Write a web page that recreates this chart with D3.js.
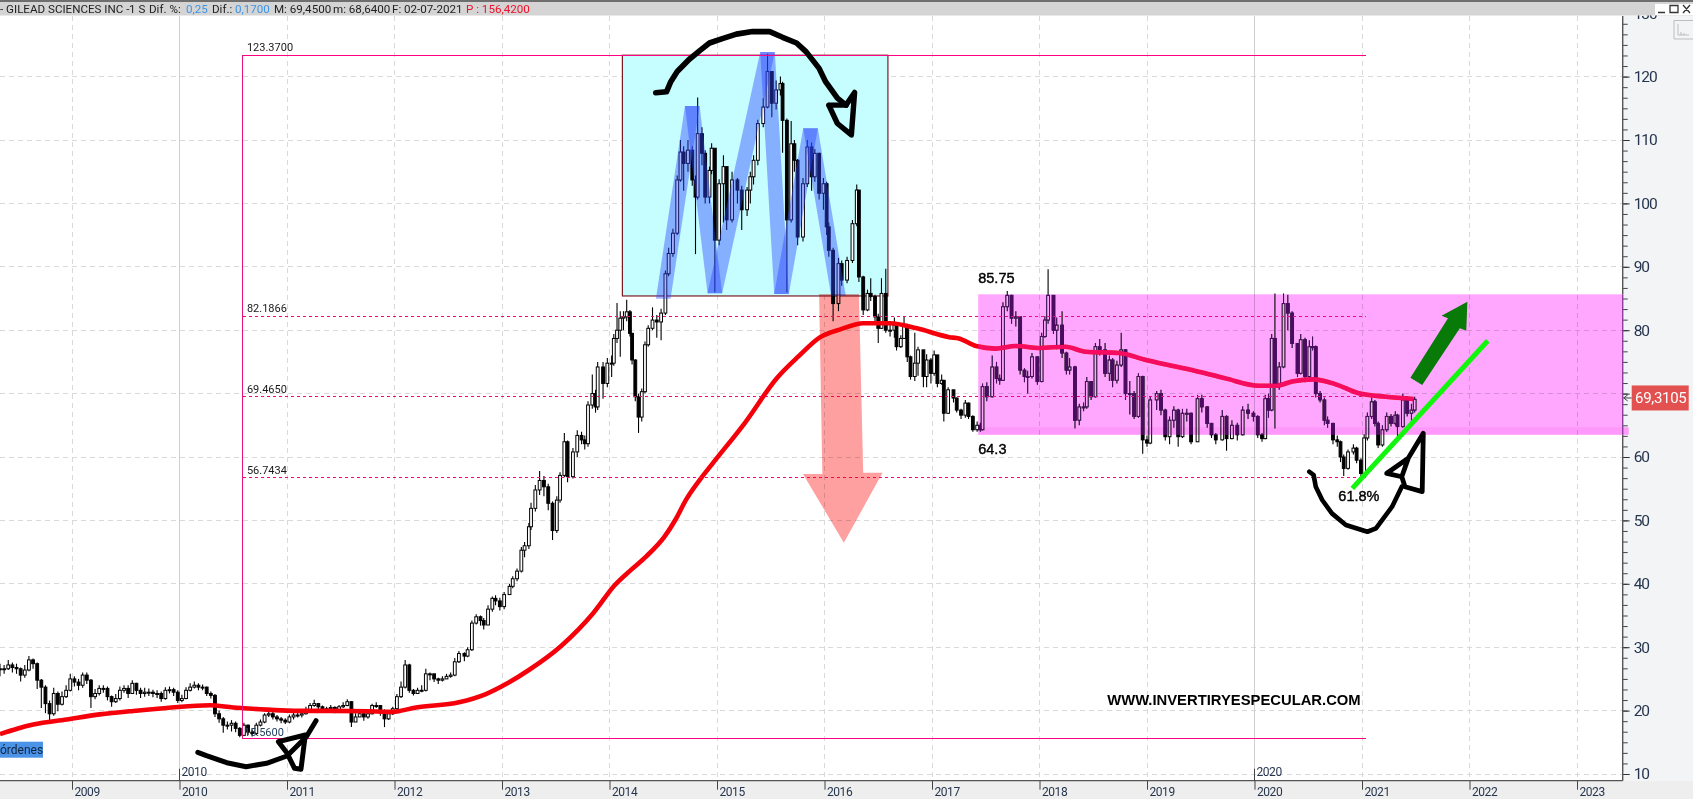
<!DOCTYPE html>
<html><head><meta charset="utf-8">
<script src="https://d3js.org/d3.v7.min.js"></script>
<style>html,body{margin:0;padding:0;background:#fff;overflow:hidden}svg{display:block;isolation:isolate}text{font-family:Roboto,"Noto Sans",sans-serif}</style>
</head><body><svg id="c" width="1693" height="799"></svg>
<script>
// ---------- chart values ----------
const xTickYears=[2009,2010,2011,2012,2013,2014,2015,2016,2017,2018,2019,2020,2021,2022,2023];
const majorYears=[2010,2020];
const priceTicks=[10,20,30,40,50,60,70,80,90,100,110,120,130];
const hiddenPriceLabels=[70];
const fibLevels=[123.37,82.1866,69.465,56.7434,15.56];
const fibLabels=["123.3700","82.1866","69.4650","56.7434","15.5600"];

// fortnightly candles 2008.33 -> 2012.6
const earlyCloses=[26.6,26.6,27.2,26.8,26.6,25.6,26.4,28,27.4,24.8,
23.7,21.1,19.5,22.7,21,22.2,23.2,25,24.5,24,
25.6,24.8,22.2,22.7,23.5,23.5,22.2,21.4,21.9,23.2,
23.5,22.7,24.3,23.2,22.7,22.9,22.9,22.7,22.7,21.9,
23.2,23.3,22.9,21.6,21.9,23.2,23.7,24,23.7,23.7,
22.7,22.4,19.5,18.7,17.7,17.7,18,17.2,16.1,17.7,
16.6,16.4,17.7,18.2,19.3,19.5,19,18.7,18.5,18.2,
19,19.3,19.3,19.5,20,20.8,21.1,20.6,20.3,20.3,
20.5,20,20.6,20.8,21.4,18.2,19,19.5,19,19.5,
20.8,20.8,20,18.7,19.5,20.3,22.2,23.7,27.2,23.2,
22.7,23.2,23.2,25.8,25.8,25,24.8,25,25.4,25.6,
27.7,29];
const earlyHighs=[27.4,27.2,28,27.6,27.4,26.8,27.2,28.6,28.2,27.6,
25,24,21.6,23.6,23,23,24,25.8,25.4,25,
26,26,25,23.4,24,24,23.8,22.4,22.6,23.8,
24,24,24.8,24.4,23.6,23.6,23.5,23.3,23.2,23,
23.7,23.8,23.6,23.2,22.5,23.7,24.3,24.6,24.3,24.1,
23.8,23,22.6,20,19,18.3,18.5,18.3,17.4,18.1,
17.8,17,18.1,18.6,19.6,20,19.8,19.3,19,18.8,
19.4,19.7,19.8,20.1,20.6,21.2,21.7,21.2,20.8,20.6,
20.9,20.7,20.9,21.3,21.8,21.5,19.6,20,19.7,20,
21.1,21.3,20.9,20.2,20,20.6,22.6,24.6,28,27.4,
23.4,23.6,24,26.6,26,25.8,25.2,25.4,25.8,26,
28.3,29.4];
const earlyLows=[25.4,25.8,26.4,26,25.8,24.6,25.2,26.2,26.6,23.4,
20.4,19.6,18,19.2,19.9,20.8,22,23,23.8,23.2,
23.6,24.2,20.4,21.8,22.4,22.8,21.6,20.6,21.2,21.6,
22.8,22,22.6,22.5,22,22.2,22.3,22.1,22,21.4,
21.7,22.7,22.3,21.2,21.3,21.8,23,23.5,23.2,23.2,
22.3,21.9,19,18.1,16.5,17,16.7,16.6,15.8,16,
16.1,15.9,16.1,17.5,18,19,18.6,18.3,18,17.9,
18,18.6,18.9,18.9,19.4,19.8,20.6,20.1,19.8,19.7,
20,19.6,19.8,20.4,20.7,17.4,18.2,19,18.4,18.7,
19.4,20.4,19.2,17.4,18.5,19.3,20,22,23.5,22.8,
22.4,22.7,22.9,23,24.8,24.5,24.2,24.6,25,25.2,
25.4,27.5];

// candles 2012.65 -> 2021.49
const lateYears=[2012.65,2012.68,2012.72,2012.76,2012.80,2012.83,2012.87,2012.91,2012.94,2012.98,
2013.02,2013.07,2013.10,2013.14,2013.18,2013.21,2013.25,2013.27,2013.31,2013.35,
2013.39,2013.43,2013.47,2013.51,2013.54,2013.58,2013.61,2013.66,2013.70,2013.74,
2013.77,2013.80,2013.84,2013.87,2013.89,2013.94,2013.98,2014.02,2014.04,2014.07,
2014.10,2014.13,2014.16,2014.19,2014.21,2014.24,2014.27,2014.30,2014.33,2014.36,
2014.40,2014.44,2014.48,2014.52,2014.55,2014.59,2014.63,2014.66,2014.69,2014.73,
2014.77,2014.80,2014.82,2014.86,2014.89,2014.93,2014.95,2014.98,2015.02,2015.06,
2015.09,2015.14,2015.19,2015.23,2015.28,2015.31,2015.34,2015.38,2015.43,2015.47,
2015.51,2015.55,2015.59,2015.61,2015.65,2015.69,2015.72,2015.75,2015.80,2015.84,
2015.88,2015.91,2015.95,2015.99,2016.02,2016.04,2016.08,2016.13,2016.16,2016.21,
2016.26,2016.30,2016.32,2016.36,2016.40,2016.43,2016.47,2016.50,2016.53,2016.57,
2016.61,2016.65,2016.67,2016.71,2016.74,2016.77,2016.80,2016.84,2016.87,2016.92,
2016.95,2016.99,2017.02,2017.05,2017.09,2017.11,2017.15,2017.20,2017.23,2017.27,
2017.31,2017.34,2017.38,2017.42,2017.45,2017.47,2017.51,2017.56,2017.60,2017.63,
2017.66,2017.70,2017.74,2017.78,2017.82,2017.86,2017.89,2017.93,2017.98,2018.02,
2018.05,2018.08,2018.13,2018.16,2018.21,2018.25,2018.28,2018.33,2018.37,2018.41,
2018.44,2018.48,2018.52,2018.56,2018.61,2018.65,2018.68,2018.72,2018.76,2018.80,
2018.84,2018.88,2018.92,2018.96,2019.00,2019.03,2019.09,2019.13,2019.17,2019.21,
2019.25,2019.29,2019.33,2019.37,2019.41,2019.47,2019.51,2019.56,2019.60,2019.64,
2019.70,2019.74,2019.79,2019.84,2019.89,2019.94,2019.99,2020.03,2020.07,2020.10,
2020.13,2020.16,2020.19,2020.23,2020.27,2020.31,2020.35,2020.40,2020.43,2020.47,
2020.51,2020.54,2020.57,2020.61,2020.65,2020.68,2020.73,2020.77,2020.80,2020.83,
2020.87,2020.92,2020.95,2020.99,2021.02,2021.05,2021.09,2021.12,2021.15,2021.19,
2021.23,2021.27,2021.31,2021.33,2021.38,2021.42,2021.46,2021.49];
const lateCloses=[28.6,29.6,33.8,34.8,34.2,33.5,36,37.7,37.3,36.4,
38.3,39.6,40.8,42,45.3,46,49,51.9,54.8,56.3,
55.3,52.7,48.4,53.2,57.1,62.4,56.9,60.8,63.4,62.7,
62.1,68.2,70,67.9,74.2,71.6,74.8,74.8,78.7,80,
81.9,82.1,82.9,79.5,75.3,69.5,66.3,70.3,77.7,80.3,
81.6,81.3,82.7,88.9,92.1,95.3,103.7,108.1,106.3,108.4,
103.7,101,111,107.9,101,105.2,108.7,94.2,103.1,105.8,
97.4,103.7,102.1,99,102.1,104.2,106.8,112.6,115.2,120.8,
115.8,117.9,118.9,113.1,97.4,109.4,106.8,94.7,103.1,108.9,
104.2,107.9,101.6,103.1,96.3,92.6,84.2,90.5,87.9,91,
96.8,102.1,88.4,83.2,85.8,85.3,82.1,80.3,85.8,80,
80,80.8,77.4,78.7,80.8,75.8,72.7,74.8,76.9,72.7,
75.3,73.2,76.1,71.6,72.1,66.9,70.6,69.3,67.4,66.6,
68.5,66.4,64.3,65,64.3,71.1,69.5,74.2,72.4,72.1,
83.7,85.5,81.9,82.1,73.7,72.7,72.7,75.8,71.9,79,
81.6,85.5,80,80.8,76.4,73.7,74.2,65.8,67.9,67.9,
71.9,69.5,77.4,76.9,73.2,75.3,72.1,74.5,76.9,70,
70,66.4,72.7,62.7,62.2,69,70,67.4,63.2,65.8,
67.4,63.2,66.9,66.9,62.4,69.2,67.9,65.3,63.5,62.7,
66.4,62.9,65,63.5,67.4,66.9,66.4,63.5,62.9,69.2,
67.4,78.7,71.1,74.2,84.2,82.7,77.9,73.2,78.5,72.7,
77.4,77.4,70,69,65.8,65.3,62.7,62.4,60,58.2,
60.8,61.4,59.5,57.4,63,66.4,68.7,65.3,61.9,64.3,
66.4,65.3,66.6,64.8,69,66.9,67.4,69.1];
const lateHighs=[29.2,30,34.2,35.2,35,34.6,36.6,38,38.2,37.8,
38.7,40,41.2,42.4,45.8,46.6,49.6,52.8,55.6,57.8,
57,55.8,53,53.8,57.6,63.8,62.6,61.4,64.2,64,
63.4,68.8,73,70.6,75,75,75.6,76,79.4,84.3,
83,83,84.8,83.2,79.6,75.4,70,70.8,78.2,80.8,
83.6,82.4,83.4,89.4,93,96,104.4,110,109,110,
109,104.4,116.7,112,108.4,105.8,109.5,108,103.8,107.6,
105.6,105,104,102.8,102.6,105,107.6,113.2,116.6,123.6,
120,119.4,120,119.2,113.4,113,110,107,104,110,
109.6,108.6,108,104,103.4,97,93,91.4,91,91.6,
97.4,103,102,88.6,86.4,88.2,85.6,82.6,88.2,89.7,
81,82,81,79.2,82.2,81,76,79.6,77.4,76.2,
76.2,75.6,76.8,76,73,72,71,70.4,69.4,67.6,
69,68.6,66.6,65.6,65.4,71.6,71.8,76,75,73,
84.4,86.2,85.6,83,82,74,73.6,76.4,75.8,79.6,
82.2,89.6,85.4,82,83,76.6,75.6,74.4,68.4,68.6,
72.6,72,78,78.6,78,76,75.6,75.2,79.6,77,
72,70.4,73.2,72.8,63.4,69.6,70.4,70.6,67.6,66.4,
68,67.6,67.6,67.6,67,69.8,69.8,68,65.4,63.8,
67.4,66.6,65.8,65.4,68,68.4,67.2,66.6,63.8,69.8,
70,79.4,85.8,75,85.8,85.6,83,78,79.4,78.8,
78.4,79,77.6,70.4,69.4,66.4,65.4,63.4,62.6,60.4,
61.2,62,61.6,59.8,63.6,67,69.4,69,65.6,65,
67,66.8,67.2,66.8,70,69.6,68.4,69.5];
const lateLows=[27.8,28.4,29.4,33.6,33.4,32.8,35.2,35.6,36.6,35.8,
36,38.3,39.3,40.4,41.8,44.2,45.5,48.5,51.4,54,
53.8,51.6,46.9,48,52.8,56.8,56,56.6,60,62,
61.2,61.6,67.6,67,67.4,69.2,71,72.6,74.4,78,
75.8,80,81.4,79,74.6,68.8,63.8,65.6,70,77.4,
80,78.8,78.4,82.4,88.5,91.6,95,103.4,102,105,
102.8,92,100.6,106,100,100,104.6,86,93.4,97,
95.8,97,100,95.8,98,100,103,106,112,115,
113.6,114.8,117,108,86,97,105,93.4,94,102.6,
102,103.4,100.6,99,95,91.6,81.4,83,87,87.4,
90.6,96.4,87.6,82.4,83,84.6,81.4,78,80.2,79.6,
79,78.8,76.8,77.2,78.6,75,72.2,72,72.8,71,
71,71.6,72.8,71,71.4,65.6,66.8,68.6,67,66,
66.2,66,64,64,64,64.2,68.8,69.4,71.6,71.4,
72,83,81,80.6,73,71.8,70,72.4,71.4,71.8,
78.8,81,79.4,77,75.6,73,73,64.5,65,67.2,
67.6,69,69.4,76,72.6,72,71,71.6,74.2,69,
66.7,66,66.2,60.5,61.6,62,67.4,66.6,62.6,62,
64.6,61.6,63,65.6,62,62.4,67,64.6,63,62,
62.6,61,62.8,62.6,63.4,66,65.6,63,62.4,62.8,
66.2,67.2,64.5,70.6,74,80,77.2,72.6,73,71.8,
72.4,76.8,69.4,68.6,65,64.6,62,61.6,59.2,57,
58,60.4,59,56.6,57.2,62.6,66,64.8,61.4,61.6,
64,64.8,65,63,64.6,66.4,65.6,67];

// 200-period moving average
const maYears=[2008.33,2008.49,2008.64,2008.95,2009.26,2009.57,2009.88,2010.28,2010.5,2010.81,2011.12,2011.43,2011.74,2011.98,2012.2,2012.6,2012.85,2013.05,2013.25,2013.55,2013.85,2014.05,2014.2,2014.34,2014.51,2014.62,2014.71,2014.84,2014.96,2015.26,2015.56,2015.76,2015.96,2016.16,2016.36,2016.61,2016.86,2017.16,2017.25,2017.41,2017.59,2017.78,2018.0,2018.24,2018.43,2018.74,2018.99,2019.24,2019.48,2019.73,2020.04,2020.2,2020.35,2020.55,2020.75,2020.97,2021.22,2021.48];
const maValues=[16.3,17.15,17.8,18.6,19.4,19.95,20.4,20.85,20.5,20.15,19.95,19.95,19.9,19.8,20.5,21.3,22.6,24.3,26.4,30.2,35.4,39.8,42.2,44.3,47.4,50.3,53.2,56.4,59,65.4,72.5,75.9,78.9,80.2,81.1,81.1,80.3,78.9,78.7,77.5,77.1,77.5,77.2,77.4,76.6,76.4,75.3,74.35,73.45,72.4,71.25,71.25,71.9,72.25,71.5,70.05,69.5,69.15];

// chart annotations, in [year, price]
const cyanBox=[[2014.12,123.37],[2016.59,85.4]];
const pinkBox=[2017.43,85.66,63.5];
const doubleTopLegs=[[2014.50,84.97],[2014.77,115.36],[2014.98,85.82],[2015.47,123.88],[2015.60,85.71],[2015.87,111.84],[2016.13,85.39]];
const downArrow=[[2015.95,85.7],[2016.32,85.7],[2016.36,57.52],[2016.54,57.52],[2016.18,46.48],[2015.80,57.32],[2015.98,57.32]];
const upArrow=[[2021.45,72.51],[2021.56,71.36],[2021.91,80.3],[2021.97,79.92],[2021.98,84.5],[2021.74,82.29],[2021.80,81.88]];
const greenLine=[[2020.91,55.06],[2022.17,78.34]];
const inkTop=[[2014.43,117.46],[2014.53,117.6],[2014.57,119.2],[2014.63,120.8],[2014.74,122.7],[2014.84,124.1],[2014.93,125.3],[2015.05,126],[2015.18,126.7],[2015.33,127.1],[2015.49,127.1],[2015.61,126.2],[2015.74,125.3],[2015.83,123.9],[2015.95,121.3],[2016.01,119.2],[2016.12,116.6],[2016.20,115.5]];
const inkTopHead=[[2016.04,115.5],[2016.20,115.5],[2016.28,117.5],[2016.25,110.8],[2016.12,112.6],[2016.04,115.5]];
const inkLeft=[[2010.17,13.42],[2010.25,12.89],[2010.44,11.78],[2010.62,11.15],[2010.81,11.69],[2011.0,12.84],[2011.18,15.88],[2011.27,18.41]];
const inkLeftHead=[[2010.92,15.1],[2011.17,16.15],[2011.13,10.74],[2011.07,10.9],[2011.0,13.3],[2010.92,15.1]];
const inkRight=[[2020.51,57.68],[2020.55,57.16],[2020.57,55.31],[2020.63,53.22],[2020.72,51.11],[2020.85,49.27],[2021.05,48.21],[2021.13,48.75],[2021.28,52.16],[2021.37,55.31]];
const inkRightHead=[[2021.37,56.89],[2021.23,57.43],[2021.43,59.79],[2021.57,63.74],[2021.56,54.53],[2021.40,55.31],[2021.37,56.89],[2021.43,59.79]];

const headerBits=[["- GILEAD SCIENCES INC -",0,"#222"],["1 S",129,"#222"],["Dif. %:",149,"#222"],["0,25",186,"#3d95e6"],["Dif.:",212,"#222"],["0,1700",235,"#3d95e6"],["M: 69,4500",274,"#222"],["m: 68,6400",333,"#222"],["F: 02-07-2021",392,"#222"],["P : 156,4200",466,"#f0102a"]];

// ---------- layout ----------
const plotR=1622.7, plotT=16, plotB=780.7;
const svg=d3.select("#c");
const x=d3.scaleLinear().domain([2009,2023]).range([72,1577]);
const y=d3.scaleLinear().domain([60,120]).range([457,76.6]);
const pts=a=>a.map(d=>[x(d[0]),y(d[1])]);
const line=d3.line();

const candleYears=d3.range(earlyCloses.length).map(i=>2008.33+i/26).concat(lateYears);
const closes=earlyCloses.concat(lateCloses), highs=earlyHighs.concat(lateHighs), lows=earlyLows.concat(lateLows);
const candles=closes.map((c,i)=>({yr:candleYears[i],o:i?closes[i-1]:c,c,h:highs[i],l:lows[i]}));

svg.append("rect").attr("width",1693).attr("height",799).attr("fill","#fff");

// grid
const grid=svg.append("g").attr("fill","none").attr("shape-rendering","crispEdges");
priceTicks.forEach(p=>grid.append("line").attr("x1",0).attr("x2",plotR).attr("y1",y(p)).attr("y2",y(p)).attr("stroke","#d9d9d9").attr("stroke-dasharray","5,4"));
xTickYears.forEach(t=>{const maj=majorYears.includes(t);
 grid.append("line").attr("x1",x(t)).attr("x2",x(t)).attr("y1",plotT).attr("y2",plotB).attr("stroke",maj?"#cfcfcf":"#d9d9d9").attr("stroke-dasharray",maj?null:"5,4");});

// cyan box
svg.append("rect").attr("x",x(cyanBox[0][0])).attr("y",y(cyanBox[0][1])).attr("width",x(cyanBox[1][0])-x(cyanBox[0][0])).attr("height",y(cyanBox[1][1])-y(cyanBox[0][1])).attr("fill","#c6fdff").attr("stroke","#7d1c24").attr("stroke-width",1.2);

// candles
const cw=2.8;
const cg=svg.append("g").selectAll("g").data(candles).join("g");
cg.append("line").attr("x1",d=>x(d.yr)).attr("x2",d=>x(d.yr)).attr("y1",d=>y(d.h)).attr("y2",d=>y(d.l)).attr("stroke","#000").attr("stroke-width",1.1);
cg.append("rect").attr("x",d=>x(d.yr)-cw/2).attr("width",cw)
 .attr("y",d=>y(Math.max(d.o,d.c))).attr("height",d=>Math.max(1,Math.abs(y(d.o)-y(d.c))))
 .attr("fill",d=>d.c>=d.o?"#fff":"#000").attr("stroke","#000").attr("stroke-width",1);

// moving average
svg.append("path").attr("d",d3.line().curve(d3.curveMonotoneX)(maYears.map((t,i)=>[x(t),y(maValues[i])]))).attr("fill","none").attr("stroke","#f5000a").attr("stroke-width",4.6);

// translucent M legs
const hw=7.3;
d3.pairs(pts(doubleTopLegs)).forEach(([a,b])=>{
 svg.append("polygon").attr("points",[[a[0]-hw,a[1]],[a[0]+hw,a[1]],[b[0]+hw,b[1]],[b[0]-hw,b[1]]].join(" ")).attr("fill","#2a44ff").attr("fill-opacity",.42);
});

// pink zone: lift blacks to purple, then tint
const pbx=x(pinkBox[0]), pby=y(pinkBox[1]), pbb=y(pinkBox[2]);
svg.append("rect").attr("x",pbx).attr("y",pby).attr("width",plotR-pbx).attr("height",pbb-pby).attr("fill","#4a1060").style("mix-blend-mode","lighten");
svg.append("rect").attr("x",pbx).attr("y",pby).attr("width",plotR-pbx).attr("height",pbb-pby).attr("fill","#ffa6ff").style("mix-blend-mode","multiply");
svg.append("rect").attr("x",pbx).attr("y",pbb-7.6).attr("width",plotR-pbx).attr("height",7.6).attr("fill","#ffeafb").style("mix-blend-mode","multiply");

// fibonacci lines
const fibL=x(2010.59), fibR=x(2021.04);
svg.append("line").attr("x1",fibL).attr("x2",fibL).attr("y1",y(fibLevels[0])).attr("y2",y(fibLevels[4])).attr("stroke","#e8127d").attr("stroke-width",1).attr("shape-rendering","crispEdges");
fibLevels.forEach((v,i)=>{const solid=i==0||i==4;
 svg.append("line").attr("x1",fibL).attr("x2",fibR).attr("y1",y(v)).attr("y2",y(v)).attr("stroke","#ff0080").attr("stroke-width",1).attr("stroke-dasharray",solid?null:"3,3").attr("shape-rendering","crispEdges");
 svg.append("text").text(fibLabels[i]).attr("x",i==4?fibL+1:fibL+4).attr("y",y(v)-(i==4?3:4)).attr("font-size",11).attr("fill",i==4?"#24405f":"#1a1a1a");
});

// red down arrow
svg.append("polygon").attr("points",pts(downArrow).join(" ")).attr("fill","#ffa0a0").style("mix-blend-mode","multiply");

// green arrow and line
svg.append("polygon").attr("points",pts(upArrow).join(" ")).attr("fill","#077a07");
svg.append("path").attr("d",line(pts(greenLine))).attr("stroke","#12f50c").attr("stroke-width",5).attr("fill","none");

// hand-drawn ink
const ink=(a,w)=>svg.append("path").attr("d",d3.line().curve(d3.curveLinear)(pts(a))).attr("fill","none").attr("stroke","#000").attr("stroke-width",w).attr("stroke-linecap","round").attr("stroke-linejoin","round");
ink(inkTop,5.6);ink(inkTopHead,5.4);ink(inkLeft,5);ink(inkLeftHead,5);ink(inkRight,4.6);ink(inkRightHead,4.8);

// annotation text
const bold=(t,yr,p,fs)=>svg.append("text").text(t).attr("x",x(yr)).attr("y",y(p)).attr("font-size",fs).attr("fill","#000").style("font-family","'Liberation Sans',Arial,sans-serif").attr("stroke","#000").attr("stroke-width",.4);
bold("85.75",2017.43,87.4,14.5);
bold("64.3",2017.43,60.4,14.5);
bold("61.8%",2020.78,53,14.5);
svg.append("text").text("WWW.INVERTIRYESPECULAR.COM").attr("x",x(2018.63)).attr("y",y(20.9)).attr("font-size",14.8).attr("font-weight",700).attr("fill","#000").style("font-family","'Liberation Sans',Arial,sans-serif");

// orders tag
svg.append("rect").attr("x",0).attr("y",741.7).attr("width",43).attr("height",16).attr("fill","#4a93e6");
svg.append("text").text("órdenes").attr("x",0).attr("y",754).attr("font-size",12).attr("fill","#10233d");

// right and bottom panels
svg.append("rect").attr("x",plotR).attr("y",plotT).attr("width",1693-plotR).attr("height",plotB-plotT).attr("fill","#f2f4f6");
svg.append("rect").attr("x",0).attr("y",plotB).attr("width",1693).attr("height",799-plotB).attr("fill","#eeeeee");
svg.append("rect").attr("x",plotR).attr("y",pbb-7.6).attr("width",6).attr("height",7.6).attr("fill","#ff9cf9");

// y axis
const yAxisMinor=d3.axisRight(y).tickValues(d3.range(10,131,10/6)).tickSize(5).tickFormat("");
const gm=svg.append("g").attr("transform",`translate(${plotR},0)`).call(yAxisMinor);
gm.select(".domain").remove(); gm.selectAll("line").attr("stroke","#444");
const yAxis=d3.axisRight(y).tickValues(priceTicks).tickSize(7).tickPadding(4).tickFormat(v=>hiddenPriceLabels.includes(v)?"":d3.format("d")(v));
const gy=svg.append("g").attr("transform",`translate(${plotR},0)`).call(yAxis);
gy.select(".domain").remove(); gy.selectAll("line").attr("stroke","#333");
gy.selectAll("text").attr("font-size",15.5).attr("fill","#26354d").style("letter-spacing","-1.1px").style("font-family","Roboto,sans-serif");
svg.append("line").attr("x1",plotR).attr("x2",plotR).attr("y1",plotT).attr("y2",pby).attr("stroke","#555").attr("stroke-width",1.4);
svg.append("line").attr("x1",plotR).attr("x2",plotR).attr("y1",pby).attr("y2",pbb).attr("stroke","#8a3f9a").attr("stroke-width",1.4);
svg.append("line").attr("x1",plotR).attr("x2",plotR).attr("y1",pbb).attr("y2",plotB).attr("stroke","#555").attr("stroke-width",1.4);

// x axis
const xAxis=d3.axisBottom(x).tickValues(xTickYears).tickSize(9).tickPadding(0).tickFormat(d3.format("d"));
const gx=svg.append("g").attr("transform",`translate(0,${plotB})`).call(xAxis);
gx.select(".domain").remove();
gx.selectAll("line").attr("stroke","#444");
gx.selectAll("text").attr("text-anchor","start").attr("x",2).attr("y",7).attr("dy","0.71em").attr("font-size",12).attr("fill","#26354d").style("letter-spacing","-.45px").style("font-family","Roboto,sans-serif");
svg.append("line").attr("x1",0).attr("x2",plotR).attr("y1",plotB).attr("y2",plotB).attr("stroke","#555").attr("stroke-width",1.3);
majorYears.forEach(t=>{
 svg.append("line").attr("x1",x(t)).attr("x2",x(t)).attr("y1",plotB-12).attr("y2",plotB).attr("stroke","#444");
 svg.append("text").text(t).attr("x",x(t)+2).attr("y",plotB-5).attr("font-size",12).attr("fill","#26354d").style("letter-spacing","-.45px");
});

// last-price badge
svg.append("rect").attr("x",1631.7).attr("y",y(69.3105)-12.5).attr("width",57).attr("height",25).attr("fill","#e2504f");
svg.append("text").text("69,3105").attr("x",1635).attr("y",y(69.3105)+5.5).attr("font-size",15).attr("fill","#fff").style("letter-spacing","-.3px");
svg.append("path").attr("d",`M${plotR+1} ${y(69.3105)}h8M${plotR+1} ${y(69.3105)}l4 -3M${plotR+1} ${y(69.3105)}l4 3`).attr("stroke","#444").attr("fill","none");

// header band
svg.append("rect").attr("width",1693).attr("height",15.5).attr("fill","#d4d4d4");
svg.append("rect").attr("width",1693).attr("height",2).attr("fill","#6e6e6e");
headerBits.forEach(b=>svg.append("text").text(b[0]).attr("x",b[1]).attr("y",13.4).attr("font-size",11.6).attr("fill",b[2]));
// window buttons
svg.append("rect").attr("x",1655).attr("y",4).attr("width",38).attr("height",11).attr("fill","#fff");
svg.append("path").attr("d","M1658 12.5h7M1670 5.5h8v7h-8zM1683 5l7 8M1690 5l-7 8").attr("stroke","#333").attr("stroke-width",1.3).attr("fill","none");
svg.append("path").attr("d","M1674 20.5h19M1674 20.5v18.5h19M1678 24v11h11M1681 35v-3M1684 35v-2").attr("stroke","#bdbdbd").attr("stroke-width",1).attr("fill","none");
</script></body></html>
